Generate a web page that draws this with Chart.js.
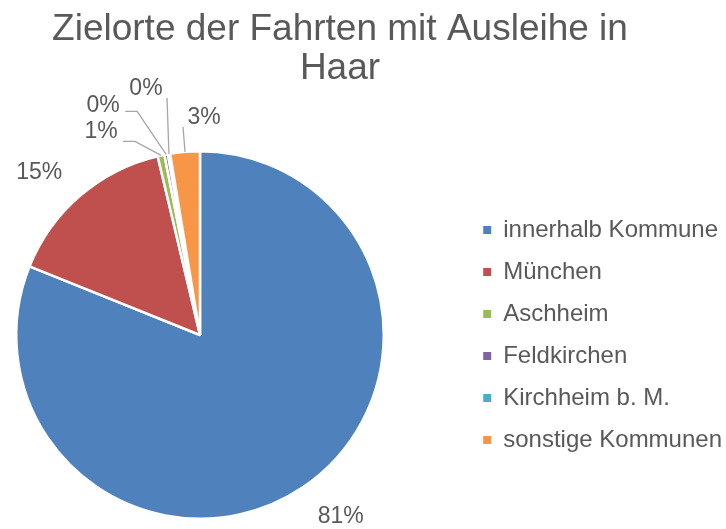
<!DOCTYPE html>
<html>
<head>
<meta charset="utf-8">
<script src="https://cdn.jsdelivr.net/npm/chart.js@4.4.1/dist/chart.umd.min.js"></script>
<style>
  html, body { margin: 0; padding: 0; background: #fff; }
  #wrap { width: 726px; height: 529px; }
</style>
</head>
<body>
<div id="wrap"><canvas id="myChart"></canvas></div>
<script>
const kategorien = ['innerhalb Kommune', 'München', 'Aschheim', 'Feldkirchen', 'Kirchheim b. M.', 'sonstige Kommunen'];
const anteile = [81.1, 15.2, 0.6, 0.3, 0.2, 2.6];
const beschriftung = ['81%', '15%', '1%', '0%', '0%', '3%'];
const farben = ['#4F81BD', '#C0504D', '#9BBB59', '#8064A2', '#4BACC6', '#F79646'];
const titelZeilen = ['Zielorte der Fahrten mit Ausleihe in', 'Haar'];

const textFarbe = '#595959';
const schrift = '"Liberation Sans", Arial, sans-serif';

// label offsets relative to the outer edge of each slice, small slices get leader lines
const fuehrung = [
  { text: [38, 29], pfad: [] },
  { text: [-41, -23], pfad: [] },
  { text: [-60, -24], pfad: [[-26, -14], [-38, -14]] },
  { text: [-63, -49], pfad: [[-29, -43], [-41, -43]] },
  { text: [-23, -65], pfad: [[-2, -56]] },
  { text: [19, -34], pfad: [[-2, -25]] }
];

// plot area like in the excel chart (pie sits left of the middle)
const plotFlaeche = { left: 15, right: 385, top: 150, bottom: 520 };

const flaechePlugin = {
  id: 'plotFlaeche',
  afterLayout(chart) {
    Object.assign(chart.chartArea, plotFlaeche);
    chart.chartArea.width = plotFlaeche.right - plotFlaeche.left;
    chart.chartArea.height = plotFlaeche.bottom - plotFlaeche.top;
  }
};

const titelPlugin = {
  id: 'titel',
  afterDraw(chart) {
    const ctx = chart.ctx;
    ctx.save();
    ctx.fillStyle = textFarbe;
    ctx.font = '37px ' + schrift;
    ctx.textAlign = 'center';
    ctx.textBaseline = 'alphabetic';
    ctx.fillText(titelZeilen[0], 340, 40);
    ctx.fillText(titelZeilen[1], 340, 79);
    ctx.restore();
  }
};

const labelPlugin = {
  id: 'sliceLabels',
  afterDatasetsDraw(chart) {
    const ctx = chart.ctx;
    const meta = chart.getDatasetMeta(0);
    ctx.save();
    ctx.font = '23px ' + schrift;
    ctx.fillStyle = textFarbe;
    ctx.textAlign = 'center';
    ctx.textBaseline = 'middle';
    meta.data.forEach((arc, i) => {
      const p = arc.getProps(['x', 'y', 'startAngle', 'endAngle', 'outerRadius'], true);
      const mitte = (p.startAngle + p.endAngle) / 2;
      const ex = p.x + Math.cos(mitte) * p.outerRadius;
      const ey = p.y + Math.sin(mitte) * p.outerRadius;
      const f = fuehrung[i];
      if (f.pfad.length) {
        ctx.strokeStyle = '#A6A6A6';
        ctx.lineWidth = 1.3;
        ctx.beginPath();
        ctx.moveTo(ex, ey);
        f.pfad.forEach(pt => ctx.lineTo(ex + pt[0], ey + pt[1]));
        ctx.stroke();
      }
      ctx.fillText(beschriftung[i], ex + f.text[0], ey + f.text[1]);
    });
    ctx.restore();
  }
};

const standardLabels = Chart.overrides.doughnut.plugins.legend.labels.generateLabels;

const ctx = document.getElementById('myChart').getContext('2d');
const myChart = new Chart(ctx, {
  type: 'pie',
  data: {
    labels: kategorien,
    datasets: [{
      data: anteile,
      backgroundColor: farben,
      borderColor: '#ffffff',
      borderWidth: 2.5
    }]
  },
  options: {
    responsive: true,
    maintainAspectRatio: false,
    animation: false,
    layout: {
      padding: { top: 150, bottom: 9, left: 0, right: -6 }
    },
    plugins: {
      title: { display: false },
      tooltip: { enabled: false },
      legend: {
        position: 'right',
        labels: {
          boxWidth: 8,
          boxHeight: 8,
          padding: 18,
          color: textFarbe,
          font: { family: schrift, size: 24 },
          generateLabels(chart) {
            return standardLabels(chart).map(l => Object.assign(l, { lineWidth: 0, strokeStyle: l.fillStyle }));
          }
        }
      }
    }
  },
  plugins: [flaechePlugin, titelPlugin, labelPlugin]
});
</script>
</body>
</html>
